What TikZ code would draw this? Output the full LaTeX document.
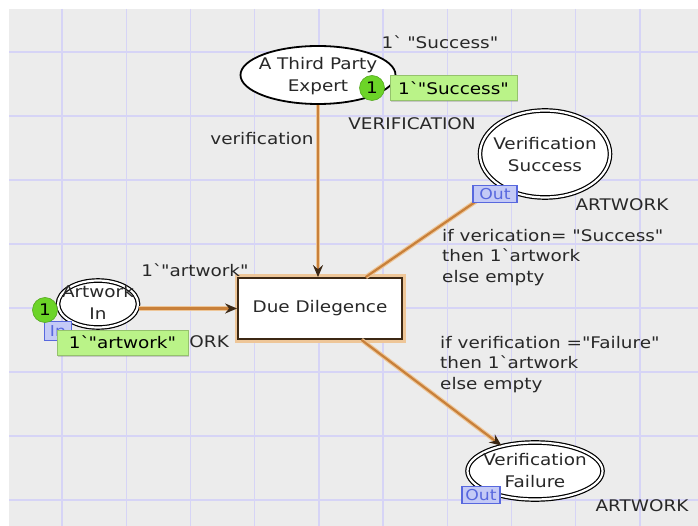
\documentclass[tikz,border=0pt]{standalone}
\usepackage{fontspec}
\setmainfont{DejaVu Sans}[Ligatures=TeXOff, FakeStretch=1.15]
\usetikzlibrary{shapes.geometric,arrows.meta,shadows}
\definecolor{bgc}{RGB}{236,236,236}
\definecolor{gridc}{RGB}{214,212,246}
\definecolor{arcc}{RGB}{200,128,58}
\definecolor{glowc}{RGB}{238,198,152}
\definecolor{tipc}{RGB}{60,40,20}
\definecolor{txtc}{RGB}{40,40,40}
\definecolor{tokc}{RGB}{108,212,40}
\definecolor{markc}{RGB}{186,243,136}
\definecolor{portc}{RGB}{196,202,246}
\definecolor{portb}{RGB}{88,104,222}
\newcommand\bq{\textasciigrave}
\begin{document}
\begin{tikzpicture}[x=1pt,y=-1pt, font=\fontsize{16}{22}\selectfont, text=txtc,
 plc/.style={ellipse, draw=black, fill=white, inner sep=0pt},
 dplc/.style={plc, double=white, double distance=2.2pt, line width=1.2pt},
 lbl/.style={inner sep=0pt, align=center},
 arcglow/.style={draw=glowc, line width=4.5pt},
 arcline/.style={draw=arcc, line width=2.2pt, -{Stealth[length=12pt,width=10pt,inset=4pt,color=tipc]}},
 tok/.style={circle, fill=tokc, draw=tokc!80!black, line width=0.6pt, minimum size=25pt, inner sep=0pt, text=black},
 marking/.style={rectangle, fill=markc, draw=markc!80!black, line width=0.5pt, minimum height=25pt, inner sep=0pt, text=black, drop shadow={shadow xshift=1pt,shadow yshift=-1.5pt,opacity=0.35}},
 port/.style={rectangle, fill=portc, draw=portb, line width=1.2pt, minimum height=17pt, inner sep=0pt, text=portb, font=\fontsize{15}{15}\selectfont}
]
\useasboundingbox (0,0) rectangle (698,526);
\fill[white] (0,0) rectangle (698,526);
\fill[bgc] (9,9) rectangle (698,526);
\foreach \i in {0,...,9} {\draw[gridc, line width=1.4pt] ({62+64.2*\i},9) -- ({62+64.2*\i},526);}
\foreach \j in {0,...,7} {\draw[gridc, line width=1.4pt] (9,{52+64*\j}) -- (698,{52+64*\j});}

% places and transition
\node[plc, line width=1.8pt, minimum width=155pt, minimum height=58pt] (expert) at (318,75) {};
\node[dplc, minimum width=80pt, minimum height=47pt] (artin) at (98,304) {};
\node[dplc, minimum width=130pt, minimum height=87pt] (vsucc) at (545,154) {};
\node[dplc, minimum width=135pt, minimum height=57pt] (vfail) at (535,471) {};
\node[draw=tipc, fill=white, line width=1.8pt, minimum width=164pt, minimum height=61pt, preaction={draw=glowc, line width=7pt}] (due) at (320,308.5) {Due Dilegence};

% arcs
\draw[arcglow, shorten >=10pt] (expert.south) -- (expert.south |- due.north);
\draw[arcline] (expert.south) -- (expert.south |- due.north);
\draw[arcglow, shorten >=10pt] (artin.east |- due.west) -- (due.west);
\draw[arcline] (artin.east |- due.west) -- (due.west);
\draw[arcglow, shorten >=10pt] (due) -- (vsucc);
\draw[arcline] (due) -- (vsucc);
\draw[arcglow, shorten >=10pt] (due) -- (vfail);
\draw[arcline] (due) -- (vfail);

% place texts
\node[lbl] (expertt) at (318,76.5) {A Third Party\\Expert};
\node[lbl] (artint) at (98,302.5) {Artwork\\In};
\node[lbl] (vsucct) at (545,154.5) {Verification\\Success};
\node[lbl] (vfailt) at (535,471) {Verification\\Failure};

% inscriptions
\node[lbl] (inscr1) at (440,42) {1\bq\ "Success"};
\node[lbl] (typ1) at (412,124) {VERIFICATION};
\node[lbl] (arcl1) at (262,139) {verification};
\node[lbl] (arcl2) at (195,270) {1\bq"artwork"};
\node[lbl, anchor=east] (typ2) at (229,342) {ARTWORK};
\node[lbl] (typ3) at (622,205) {ARTWORK};
\node[lbl] (typ4) at (642,506) {ARTWORK};
\node[lbl, align=left, anchor=north west, font=\fontsize{16}{20.5}\selectfont] (cond1) at (442,229) {if verication= "Success"\\then 1\bq artwork\\else empty};
\node[lbl, align=left, anchor=north west, font=\fontsize{16}{20.5}\selectfont] (cond2) at (440,336) {if verification ="Failure"\\then 1\bq artwork\\else empty};

% ports
\node[port, minimum width=44pt] (p1) at (495,194) {Out};
\node[port, minimum width=38pt] (p2) at (481,495) {Out};
\node[port, minimum width=27pt, minimum height=19pt] (p3) at (58,331) {In};

% markings
\node[marking, minimum width=127pt] (m1) at (453.5,88) {1\bq"Success"};
\node[marking, minimum width=131pt] (m2) at (122.5,342.5) {1\bq"artwork"};
\node[tok] (tk1) at (372,88) {1};
\node[tok] (tk2) at (45,310) {1};
\end{tikzpicture}
\end{document}
